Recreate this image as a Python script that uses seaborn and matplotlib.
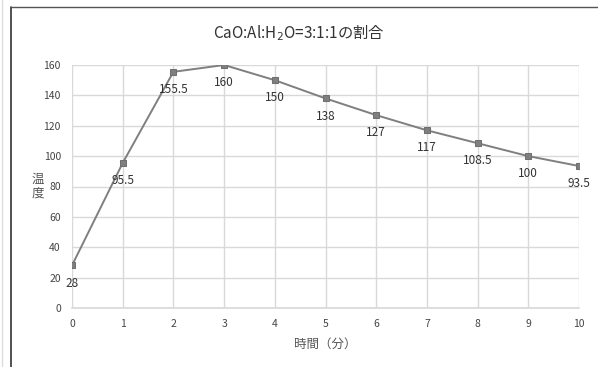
import matplotlib
matplotlib.use('Agg')
import matplotlib.pyplot as plt
import seaborn as sns
import pandas as pd
from matplotlib.lines import Line2D

# === データ ===
minutes = [0, 1, 2, 3, 4, 5, 6, 7, 8, 9, 10]
temps = [28, 95.5, 155.5, 160, 150, 138, 127, 117, 108.5, 100, 93.5]
labels = ['28', '95.5', '155.5', '160', '150', '138', '127', '117', '108.5', '100', '93.5']

df = pd.DataFrame({'time': minutes, 'temp': temps})

sns.set_theme(style='white')
plt.rcParams['font.family'] = ['Noto Sans CJK JP', 'DejaVu Sans']

fig = plt.figure(figsize=(5.98, 3.67), dpi=100)
ax = fig.add_axes([72 / 598, 1 - 308 / 367, (579 - 72) / 598, (308 - 65) / 367])

sns.lineplot(data=df, x='time', y='temp', ax=ax, color='#7f7f7f', linewidth=1.4,
             marker='s', markersize=5, markeredgecolor='#6f6f6f', markerfacecolor='#7f7f7f')

for x, y, t in zip(minutes, temps, labels):
    ax.annotate(t, (x, y), xytext=(0, -8), textcoords='offset points',
                ha='center', va='top', fontsize=8.5, color='#333333')

ax.set_xlim(0, 10)
ax.set_ylim(0, 160)
ax.set_xticks(range(0, 11))
ax.set_yticks(range(0, 161, 20))
ax.grid(True, color='#d9d9d9', linewidth=1)
for s in ['top', 'right', 'left']:
    ax.spines[s].set_visible(False)
ax.spines['bottom'].set_color('#d9d9d9')
ax.tick_params(axis='both', labelsize=7.5, colors='#444444', length=0, pad=8)

ax.set_xlabel('時間（分）', fontsize=9, color='#555555', labelpad=6)
ax.set_ylabel('温\n度', fontsize=9, color='#555555', rotation=0, labelpad=0,
              va='center', ha='center', linespacing=1.1)
ax.yaxis.set_label_coords(-0.068, 0.5)

fig.text(0.5, 1 - 33 / 367, 'CaO:Al:H$_2$O=3:1:1の割合', ha='center', va='center',
         fontsize=11, color='#333333')

# 枠線
fig.add_artist(Line2D([11 / 598, 11 / 598], [0, 1 - 7 / 367], color='#333333', linewidth=1.2))
fig.add_artist(Line2D([11 / 598, 1], [1 - 7 / 367, 1 - 7 / 367], color='#555555', linewidth=1.0))
fig.add_artist(Line2D([2 / 598, 2 / 598], [0, 1], color='#dddddd', linewidth=1.0))

fig.savefig('out.png', dpi=100)
